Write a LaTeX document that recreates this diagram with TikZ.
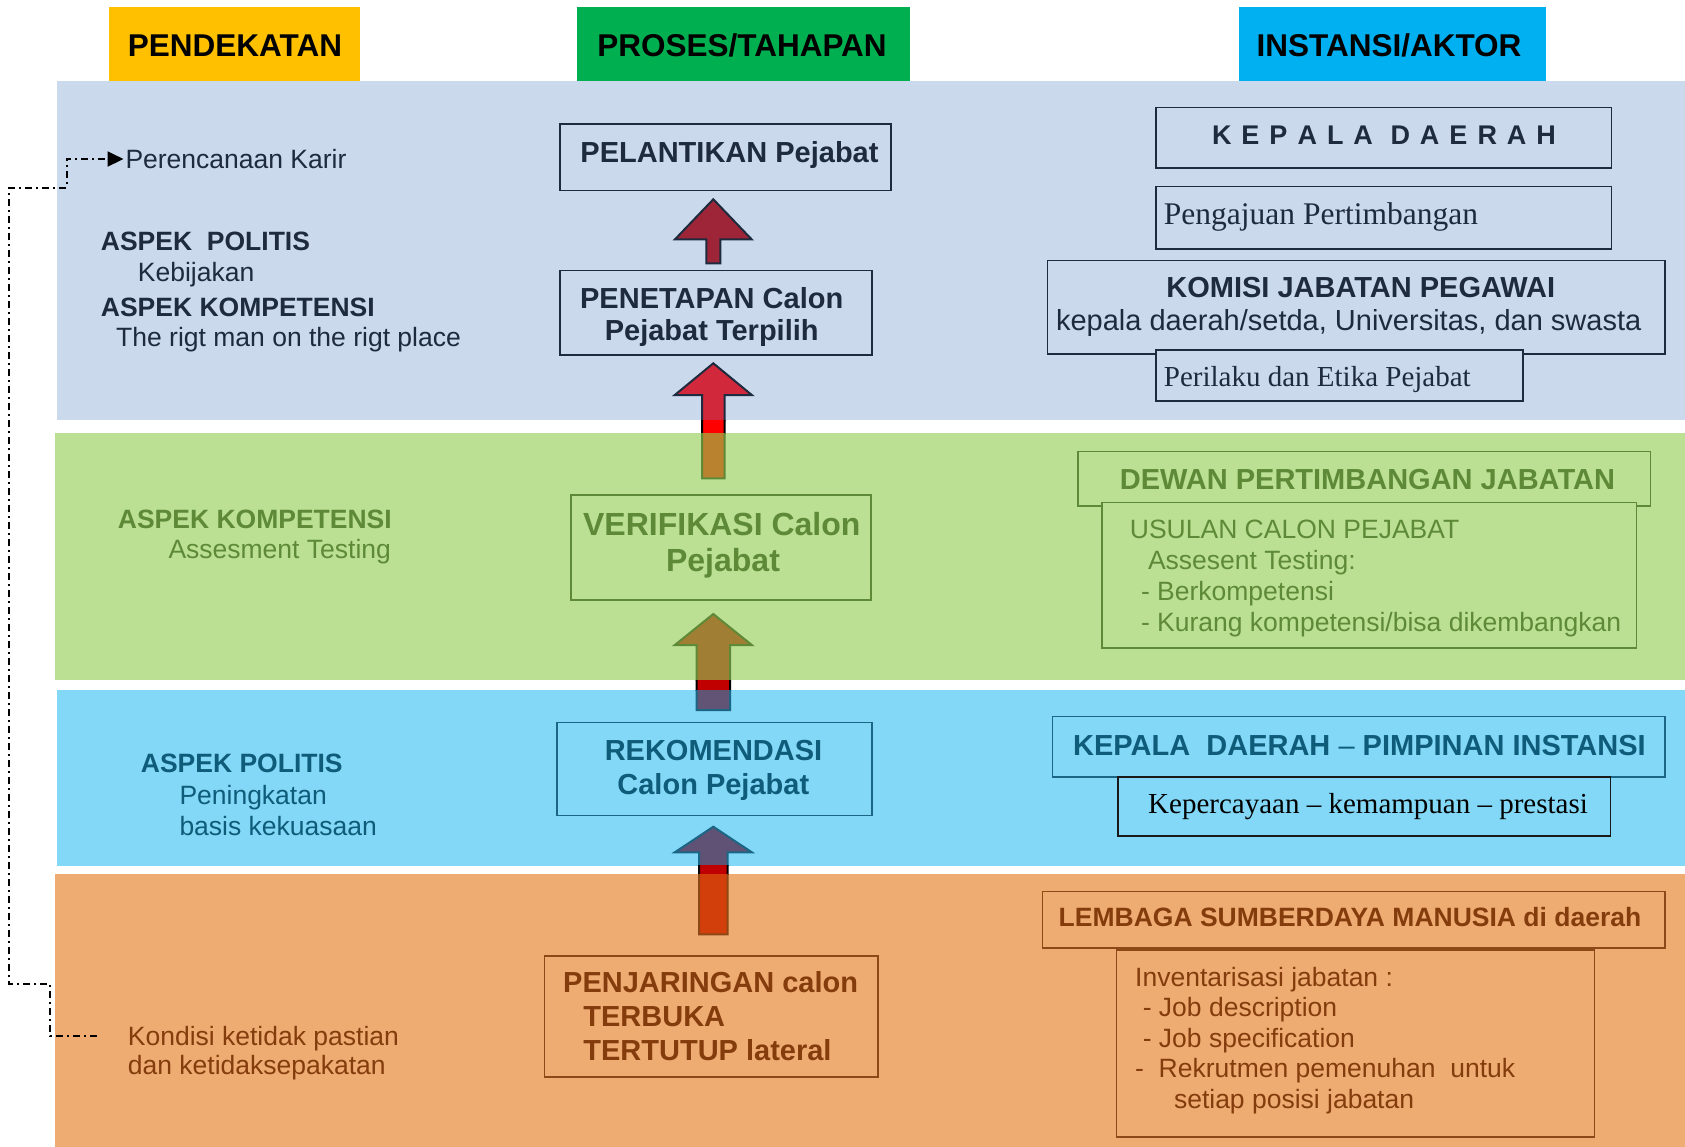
\documentclass[tikz,border=0pt]{standalone}
\usepackage{fontspec}
\setmainfont{Liberation Sans}
\newfontfamily\seriffam{Liberation Serif}
\usetikzlibrary{arrows.meta}

\definecolor{bandA}{HTML}{CAD9EB}
\definecolor{bandB}{HTML}{BBE094}
\definecolor{bandC}{HTML}{82D8F6}
\definecolor{bandD}{HTML}{EEAC73}
\definecolor{hyel}{HTML}{FFC000}
\definecolor{hgrn}{HTML}{00B050}
\definecolor{hblu}{HTML}{00B0F0}
\definecolor{cnavy}{HTML}{1E2B3F}
\definecolor{cgreen}{HTML}{5E8A37}
\definecolor{cteal}{HTML}{0E5C7A}
\definecolor{cbrown}{HTML}{843C0C}
\definecolor{lteal}{HTML}{1B6585}
\definecolor{lbrown}{HTML}{8E4716}

\tikzset{
  tx/.style={inner sep=0pt, anchor=base west},
  txc/.style={inner sep=0pt, anchor=base},
  r265/.style={font=\fontsize{26.5}{30}\selectfont},
  b265/.style={font=\fontsize{26.5}{30}\selectfont\bfseries},
  r29/.style={font=\fontsize{29}{34}\selectfont},
  b29/.style={font=\fontsize{29}{34}\selectfont\bfseries},
  b32/.style={font=\fontsize{32}{36}\selectfont\bfseries},
  s29/.style={font=\fontsize{29}{34}\selectfont\seriffam},
  s315/.style={font=\fontsize{31.5}{36}\selectfont\seriffam},
  hdrbox/.style={inner sep=0pt, anchor=north west},
  hdrtxt/.style={inner sep=0pt, anchor=base, font=\fontsize{31.5}{36}\selectfont\bfseries, text=black},
  box/.style={draw, line width=1.5pt, inner sep=0pt, anchor=north west},
  barrow/.style n args={6}{insert path={(#1,#2) -- ({#1+#4},#3) -- ({#1+#5},#3) -- ({#1+#5},#6) -- ({#1-#5},#6) -- ({#1-#5},#3) -- ({#1-#4},#3) -- cycle}},
  arrline/.style={line width=2pt, line join=miter},
  dashdotline/.style={line width=2pt, dash pattern=on 7pt off 4pt on 2pt off 4pt}
}
\newcommand\ls{\hspace{10pt}}

\begin{document}
\begin{tikzpicture}[x=1pt,y=-1pt]
\useasboundingbox (0,0) rectangle (1685,1147);

% bands
\fill[bandA] (57,80.6) rectangle (1685,420);
\fill[bandB] (55,433.3) rectangle (1685,680);
\fill[bandC] (57,690) rectangle (1685,866);
\fill[bandD] (55,874) rectangle (1685,1147);

% headers
\node[hdrbox, fill=hyel, minimum width=251.5pt, minimum height=73.6pt] (h1) at (108.5,7) {};
\node[hdrtxt] (h1t) at (235,56.4) {PENDEKATAN};
\node[hdrbox, fill=hgrn, minimum width=333pt, minimum height=73.6pt] (h2) at (577,7) {};
\node[hdrtxt] (h2t) at (742,56.4) {PROSES/TAHAPAN};
\node[hdrbox, fill=hblu, minimum width=307pt, minimum height=73.6pt] (h3) at (1239,7) {};
\node[hdrtxt] (h3t) at (1389,56.4) {INSTANSI/AKTOR};

% ---------- block arrows ----------
% A1
\filldraw[arrline, fill={rgb,255:red,158;green,37;blue,55}, draw=cnavy, barrow={713.3}{199.3}{239.3}{38.3}{7}{263.3}];
% A2
\begin{scope}\clip (0,355) rectangle (1685,420);
\filldraw[arrline, fill={rgb,255:red,209;green,40;blue,60}, draw=cnavy, barrow={713.3}{363.3}{395}{38.5}{11.3}{478.3}];
\end{scope}
\begin{scope}\clip (0,420) rectangle (1685,433.3);
\filldraw[arrline, fill={rgb,255:red,255;green,0;blue,0}, draw=black, barrow={713.3}{363.3}{395}{38.5}{11.3}{478.3}];
\end{scope}
\begin{scope}\clip (0,433.3) rectangle (1685,485);
\filldraw[arrline, fill={rgb,255:red,185;green,130;blue,47}, draw=cgreen, barrow={713.3}{363.3}{395}{38.5}{11.3}{478.3}];
\end{scope}
% A3
\begin{scope}\clip (0,605) rectangle (1685,680);
\filldraw[arrline, fill={rgb,255:red,160;green,126;blue,51}, draw=cgreen, barrow={713.3}{614}{645}{38.5}{16.7}{710}];
\end{scope}
\begin{scope}\clip (0,680) rectangle (1685,690);
\filldraw[arrline, fill={rgb,255:red,192;green,0;blue,0}, draw=black, barrow={713.3}{614}{645}{38.5}{16.7}{710}];
\end{scope}
\begin{scope}\clip (0,690) rectangle (1685,716);
\filldraw[arrline, fill={rgb,255:red,98;green,84;blue,117}, draw=lteal, barrow={713.3}{614}{645}{38.5}{16.7}{710}];
\end{scope}
% A4
\begin{scope}\clip (0,818) rectangle (1685,865.7);
\filldraw[arrline, fill={rgb,255:red,95;green,82;blue,116}, draw=lteal, barrow={713.3}{826.7}{852.3}{38.5}{14.3}{934.3}];
\end{scope}
\begin{scope}\clip (0,865.7) rectangle (1685,874);
\filldraw[arrline, fill={rgb,255:red,192;green,0;blue,0}, draw=black, barrow={713.3}{826.7}{852.3}{38.5}{14.3}{934.3}];
\end{scope}
\begin{scope}\clip (0,874) rectangle (1685,941);
\filldraw[arrline, fill={rgb,255:red,211;green,63;blue,11}, draw=lbrown, barrow={713.3}{826.7}{852.3}{38.5}{14.3}{934.3}];
\end{scope}

% ---------- center boxes ----------
\node[box, draw=cnavy, fill=bandA, minimum width=330.7pt, minimum height=66.7pt] (pel) at (559.3,123.3) {};
\node[txc, b29, text=cnavy] (pelt) at (729.5,163) {PELANTIKAN Pejabat};

\node[box, draw=cnavy, fill=bandA, minimum width=311.7pt, minimum height=84.3pt] (pen) at (559.3,270) {};
\node[txc, b29, text=cnavy] (pent1) at (711.7,308.3) {PENETAPAN Calon};
\node[txc, b29, text=cnavy] (pent2) at (711.7,341) {Pejabat Terpilih};

\node[box, draw=cgreen, fill=bandB, minimum width=300pt, minimum height=104.7pt] (ver) at (570,494.3) {};
\node[txc, b32, text=cgreen] (vert1) at (721.8,535) {VERIFIKASI Calon};
\node[txc, b32, text=cgreen] (vert2) at (723,571.7) {Pejabat};

\node[box, draw=lteal, fill=bandC, minimum width=315pt, minimum height=92.9pt] (rek) at (556,721.7) {};
\node[txc, b29, text=cteal] (rekt1) at (713.5,760) {REKOMENDASI};
\node[txc, b29, text=cteal] (rekt2) at (713.3,794.3) {Calon Pejabat};

\node[box, draw=lbrown, fill=bandD, minimum width=333.6pt, minimum height=121pt] (penj) at (543.8,955) {};
\node[tx, b29, text=cbrown] (penjt1) at (563,992.7) {PENJARINGAN calon};
\node[tx, b29, text=cbrown] (penjt2) at (583.2,1026.7) {TERBUKA};
\node[tx, b29, text=cbrown] (penjt3) at (583.2,1060) {TERTUTUP lateral};

% ---------- right boxes ----------
\node[box, draw=cnavy, fill=bandA, minimum width=455.3pt, minimum height=60.6pt] (kd) at (1155.3,106.7) {};
\node[txc, font=\fontsize{27}{32}\selectfont\bfseries, text=cnavy] (kdt) at (1384,144.3)
  {K\ls E\ls P\ls A\ls L\ls A\ls\ D\ls A\ls E\ls R\ls A\ls H};

\node[box, draw=cnavy, fill=bandA, minimum width=455.3pt, minimum height=62.6pt] (peng) at (1155.3,185.7) {};
\node[tx, s315, text=cnavy] (pengt) at (1163.7,225) {Pengajuan Pertimbangan};

\node[box, draw=cnavy, fill=bandA, minimum width=617.3pt, minimum height=93.3pt] (kom) at (1046.7,260) {};
\node[txc, b29, text=cnavy] (komt1) at (1360.8,297.3) {KOMISI JABATAN PEGAWAI};
\node[tx, r29, text=cnavy] (komt2) at (1055.9,330.7) {kepala daerah/setda, Universitas, dan swasta};

\node[box, draw=cnavy, fill=bandA, minimum width=366.7pt, minimum height=50.7pt] (pr) at (1155.3,349.3) {};
\node[tx, s29, text=cnavy] (prt) at (1163.7,386) {Perilaku dan Etika Pejabat};

\node[box, draw=cgreen, fill=bandB, minimum width=572.6pt, minimum height=54.3pt] (dew) at (1077,450.7) {};
\node[txc, b29, text=cgreen] (dewt) at (1367.4,489) {DEWAN PERTIMBANGAN JABATAN};

\node[box, draw=cgreen, fill=bandB, minimum width=534.6pt, minimum height=145.6pt] (usu) at (1101,501.7) {};
\node[tx, r265, text=cgreen] (usut1) at (1129.7,538.3) {USULAN CALON PEJABAT};
\node[tx, r265, text=cgreen] (usut2) at (1147.8,569.3) {Assesent Testing:};
\node[tx, r265, text=cgreen] (usut3) at (1140.8,600.3) {- Berkompetensi};
\node[tx, r265, text=cgreen] (usut4) at (1140.8,631.3) {- Kurang kompetensi/bisa dikembangkan};

\node[box, draw=lteal, fill=bandC, minimum width=612.9pt, minimum height=60.3pt] (kp) at (1051.5,715.7) {};
\node[tx, b29, text=cteal] (kpt) at (1073,755) {KEPALA\ \ DAERAH {\mdseries –} PIMPINAN INSTANSI};

\node[box, draw=black!90, fill=bandC, minimum width=492.7pt, minimum height=59pt] (kep) at (1117,776) {};
\node[tx, s29, text=black] (kept) at (1148,813.3) {Kepercayaan – kemampuan – prestasi};

\node[box, draw=lbrown, fill=bandD, minimum width=622.5pt, minimum height=56.6pt] (lem) at (1041.5,890.7) {};
\node[tx, b265, text=cbrown] (lemt) at (1058.5,926.5) {LEMBAGA SUMBERDAYA MANUSIA di daerah};

\node[box, draw=lbrown, fill=bandD, minimum width=477.7pt, minimum height=186.7pt] (inv) at (1115.8,949.3) {};
\node[tx, r265, text=cbrown] (invt1) at (1135,986) {Inventarisasi jabatan :};
\node[tx, r265, text=cbrown] (invt2) at (1142.6,1016.5) {- Job description};
\node[tx, r265, text=cbrown] (invt3) at (1142.6,1047) {- Job specification};
\node[tx, r265, text=cbrown] (invt4) at (1135,1077.5) {-\ \ Rekrutmen pemenuhan\ \ untuk};
\node[tx, r265, text=cbrown] (invt5) at (1173.8,1108) {setiap posisi jabatan};

% ---------- left texts ----------
\node[tx, r265, text=cnavy, outer sep=2pt] (perc) at (123.5,168.5) {Perencanaan Karir};
\node[tx, b265, text=cnavy] (lt1) at (100.7,250.5) {ASPEK\ \ POLITIS};
\node[tx, r265, text=cnavy] (lt2) at (137.7,281.5) {Kebijakan};
\node[tx, b265, text=cnavy] (lt3) at (100.7,316.5) {ASPEK KOMPETENSI};
\node[tx, r265, text=cnavy] (lt4) at (116,346) {The rigt man on the rigt place};

\node[tx, b265, text=cgreen] (lg1) at (117.7,528) {ASPEK KOMPETENSI};
\node[tx, r265, text=cgreen] (lg2) at (168.3,558.5) {Assesment Testing};

\node[tx, b265, text=cteal] (lb1) at (140.7,772.4) {ASPEK POLITIS};
\node[tx, r265, text=cteal] (lb2) at (179.3,804.2) {Peningkatan};
\node[tx, r265, text=cteal] (lb3) at (179.3,835) {basis kekuasaan};

\node[tx, r265, text=cbrown] (lo1) at (127.7,1045.5) {Kondisi ketidak pastian};
\node[tx, r265, text=cbrown] (lo2) at (127.7,1074.5) {dan ketidaksepakatan};

% dash-dot connector
\coordinate (kst) at (96.7,1036);
\draw[dashdotline, -{Triangle[length=16pt,width=15pt]}]
  (kst) -- (50,1036) -- (50,984) -- (9,984) -- (9,188) -- (66.7,188) |- (perc.west);
\end{tikzpicture}
\end{document}
